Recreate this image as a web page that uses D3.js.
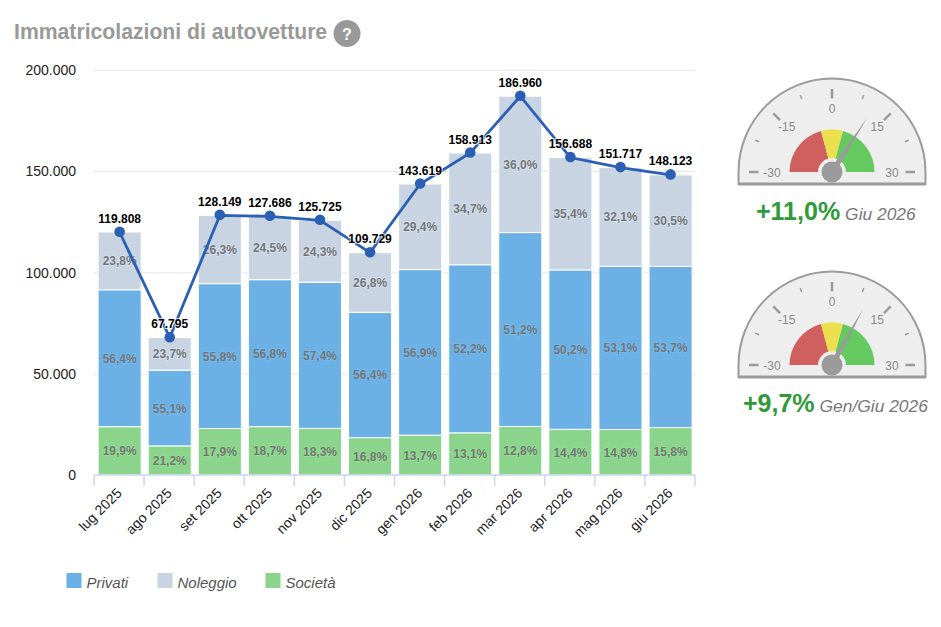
<!DOCTYPE html>
<html lang="it">
<head>
<meta charset="utf-8">
<title>Immatricolazioni di autovetture</title>
<script src="https://cdn.jsdelivr.net/npm/d3@7/dist/d3.min.js"></script>
<style>
  html, body { margin: 0; padding: 0; background: #fff; }
  svg { display: block; font-family: "Liberation Sans", Arial, sans-serif; }
</style>
</head>
<body>
<svg id="chart" width="941" height="627"></svg>
<script>
// Monthly registrations and the share of each sales channel
const months = ["lug 2025","ago 2025","set 2025","ott 2025","nov 2025","dic 2025","gen 2026","feb 2026","mar 2026","apr 2026","mag 2026","giu 2026"];
const totals = [119808,67795,128149,127686,125725,109729,143619,158913,186960,156688,151717,148123];
const societa = [19.9,21.2,17.9,18.7,18.3,16.8,13.7,13.1,12.8,14.4,14.8,15.8];
const privati = [56.4,55.1,55.8,56.8,57.4,56.4,56.9,52.2,51.2,50.2,53.1,53.7];
const noleggio = [23.8,23.7,26.3,24.5,24.3,26.8,29.4,34.7,36.0,35.4,32.1,30.5];
const yTicks = [0,50000,100000,150000,200000];
const seriesNames = ["Privati","Noleggio","Società"];
const seriesColors = ["#6cb1e6","#c9d4e3","#8ad48b"];
const gaugeValues = [11.0,9.7];
const gaugePeriods = ["Giu 2026","Gen/Giu 2026"];
const gaugeTicks = [-30,-15,0,15,30];
const gaugeMinorTicks = [-22.5,-7.5,7.5,22.5];
const gaugeZones = [[-30,-5,"#d0605f"],[-5,5,"#ece04f"],[5,30,"#64c95f"]];

const itNumber = v => d3.format(",")(v).replace(/,/g, ".");
const itDecimal = (v, digits) => v.toFixed(digits).replace(".", ",");

const svg = d3.select("#chart");

// Heading with the help badge
svg.append("text").attr("x", 14).attr("y", 39)
  .attr("font-size", 21.2).attr("font-weight", 700).attr("fill", "#999")
  .text("Immatricolazioni di autovetture");
svg.append("circle").attr("cx", 347).attr("cy", 33.5).attr("r", 13.5).attr("fill", "#999");
svg.append("text").attr("x", 347).attr("y", 39.5).attr("text-anchor", "middle")
  .attr("font-size", 16).attr("font-weight", 700).attr("fill", "#fff").text("?");

// Scales
const plot = { left: 94, right: 695, top: 69.8, bottom: 475 };
const x = d3.scaleBand().domain(months).range([plot.left + 0.6, plot.right + 0.6]).paddingInner(0.14).paddingOuter(0.07);
const y = d3.scaleLinear().domain([0, 200000]).range([plot.bottom, plot.top]);
const center = m => x(m) + x.bandwidth() / 2;

// Value axis and gridlines
const yAxis = svg.append("g").attr("transform", `translate(${plot.left},0)`)
  .call(d3.axisLeft(y).tickValues(yTicks).tickFormat(itNumber).tickSize(-(plot.right - plot.left)).tickPadding(18));
yAxis.select(".domain").remove();
yAxis.selectAll(".tick line").attr("stroke", "#e6e6e6");
yAxis.selectAll(".tick text").attr("font-size", 14).attr("fill", "#222")
  .attr("font-family", '"Liberation Sans", Arial, sans-serif').attr("dy", "0.55em")
  .attr("y", -3);

// Stacked columns, Società at the base
const rows = months.map((m, i) => ({
  month: m,
  total: totals[i],
  Società: totals[i] * societa[i] / 100,
  Privati: totals[i] * privati[i] / 100,
  Noleggio: totals[i] * noleggio[i] / 100,
  shares: { Società: societa[i], Privati: privati[i], Noleggio: noleggio[i] }
}));
const colorOf = d3.scaleOrdinal().domain(seriesNames).range(seriesColors);
const stacked = d3.stack().keys(["Società", "Privati", "Noleggio"])(rows);

const layers = svg.append("g").selectAll("g").data(stacked).join("g");
layers.selectAll("rect").data(s => s.map(d => ({ ...d, key: s.key }))).join("rect")
  .attr("x", d => x(d.data.month))
  .attr("width", x.bandwidth())
  .attr("y", d => y(d[1]))
  .attr("height", d => y(d[0]) - y(d[1]))
  .attr("fill", d => colorOf(d.key))
  .attr("stroke", "#fff").attr("stroke-width", 1);

// Category axis: ticks fall on the band boundaries
const axisY = plot.bottom;
const boundary = d3.scaleLinear().domain([0, months.length]).range([plot.left, plot.right]);
const xAxis = svg.append("g");
xAxis.append("line").attr("x1", plot.left).attr("x2", plot.right)
  .attr("y1", axisY).attr("y2", axisY).attr("stroke", "#ccd6eb").attr("stroke-width", 1.5);
xAxis.selectAll(".bound").data(d3.range(months.length + 1)).join("line").attr("class", "bound")
  .attr("x1", i => boundary(i)).attr("x2", i => boundary(i))
  .attr("y1", axisY).attr("y2", axisY + 11).attr("stroke", "#ccd6eb").attr("stroke-width", 1.5);
xAxis.selectAll(".cat").data(months).join("text").attr("class", "cat")
  .attr("text-anchor", "end").attr("font-size", 14).attr("fill", "#222")
  .attr("transform", m => `translate(${center(m) + 3},${axisY + 19}) rotate(-45)`)
  .text(m => m);

// Percentages inside the segments, with a light halo
const shareLabels = svg.append("g");
stacked.forEach(s => {
  shareLabels.selectAll(null).data(s).join("text")
    .attr("x", d => center(d.data.month))
    .attr("y", d => y((d[0] + d[1]) / 2) + 4.5)
    .attr("text-anchor", "middle").attr("font-size", 12).attr("font-weight", 700)
    .attr("fill", "#757575")
    .attr("stroke", d3.color(colorOf(s.key)).brighter(0.25)).attr("stroke-width", 1.5)
    .attr("stroke-opacity", 0.6).attr("paint-order", "stroke")
    .text(d => itDecimal(d.data.shares[s.key], 1) + "%");
});

// Total registrations as a line over the columns
const line = d3.line().x(d => center(d.month)).y(d => y(d.total));
svg.append("path").datum(rows).attr("d", line).attr("fill", "none")
  .attr("stroke", "#2b5fb4").attr("stroke-width", 2.8);
svg.append("g").selectAll("circle").data(rows).join("circle")
  .attr("cx", d => center(d.month)).attr("cy", d => y(d.total) - 0.5).attr("r", 5.3).attr("fill", "#2b5fb4");
svg.append("g").selectAll("text").data(rows).join("text")
  .attr("x", d => center(d.month)).attr("y", d => y(d.total) - 9.5)
  .attr("text-anchor", "middle").attr("font-size", 12).attr("font-weight", 700).attr("fill", "#000")
  .attr("stroke", "#fff").attr("stroke-width", 2).attr("stroke-opacity", 0.75).attr("paint-order", "stroke")
  .text(d => itNumber(d.total));

// Legend
const legendX = [66.5, 157.5, 265.5];
const legend = svg.append("g").selectAll("g").data(seriesNames).join("g")
  .attr("transform", (d, i) => `translate(${legendX[i]},573)`);
legend.append("rect").attr("width", 15).attr("height", 15).attr("fill", d => colorOf(d));
legend.append("text").attr("x", 20).attr("y", 14.5).attr("font-size", 15).attr("font-style", "italic")
  .attr("fill", "#555").text(d => d);

// Dial gauges
const gaugeAngle = d3.scaleLinear().domain([-30, 30]).range([-Math.PI / 2, Math.PI / 2]);
const polar = (r, a) => [r * Math.sin(a), -r * Math.cos(a)];

function drawGauge(cy, value, period, textX, baseline) {
  const g = svg.append("g").attr("transform", `translate(832,${cy})`);
  const R = 93.5, drop = 12;
  g.append("path")
    .attr("d", `M${-R},${drop} L${-R},0 A${R},${R} 0 0 1 ${R},0 L${R},${drop} Z`)
    .attr("fill", "#eeeeee").attr("stroke", "#9a9a9a").attr("stroke-width", 2);
  g.append("line").attr("x1", -R).attr("x2", R).attr("y1", drop).attr("y2", drop)
    .attr("stroke", "#9a9a9a").attr("stroke-width", 3);

  const zone = d3.arc().innerRadius(14).outerRadius(42.5);
  g.selectAll(".zone").data(gaugeZones).join("path").attr("class", "zone")
    .attr("d", d => zone({ startAngle: gaugeAngle(d[0]), endAngle: gaugeAngle(d[1]) }))
    .attr("fill", d => d[2]);

  g.selectAll(".major").data(gaugeTicks).join("line").attr("class", "major")
    .each(function (t) {
      const [x1, y1] = polar(73.5, gaugeAngle(t));
      const [x2, y2] = polar(83, gaugeAngle(t));
      d3.select(this).attr("x1", x1).attr("y1", y1).attr("x2", x2).attr("y2", y2);
    })
    .attr("stroke", "#9a9a9a").attr("stroke-width", 2.5);
  g.selectAll(".minor").data(gaugeMinorTicks).join("line").attr("class", "minor")
    .each(function (t) {
      const [x1, y1] = polar(79, gaugeAngle(t));
      const [x2, y2] = polar(83, gaugeAngle(t));
      d3.select(this).attr("x1", x1).attr("y1", y1).attr("x2", x2).attr("y2", y2);
    })
    .attr("stroke", "#9a9a9a").attr("stroke-width", 1.5);
  g.selectAll(".num").data(gaugeTicks).join("text").attr("class", "num")
    .attr("x", t => polar(Math.abs(t) === 30 ? 60 : 64, gaugeAngle(t))[0])
    .attr("y", t => polar(Math.abs(t) === 30 ? 60 : 64, gaugeAngle(t))[1] + 4.5)
    .attr("text-anchor", "middle").attr("font-size", 12).attr("fill", "#8a8a8a")
    .text(t => t);

  // Needle, tapering from the hub
  const a = gaugeAngle(value);
  const tip = polar(64, a);
  const s0 = polar(3, a + Math.PI / 2), s1 = polar(3, a - Math.PI / 2);
  g.append("path").attr("d", `M${s0[0]},${s0[1]} L${tip[0]},${tip[1]} L${s1[0]},${s1[1]} Z`).attr("fill", "#9a9a9a");
  g.append("circle").attr("r", 10.5).attr("fill", "#9a9a9a");

  const label = svg.append("text").attr("x", textX).attr("y", baseline);
  label.append("tspan").attr("font-size", 25).attr("font-weight", 700).attr("fill", "#2f9a3a")
    .text("+" + itDecimal(value, 1) + "%");
  label.append("tspan").attr("dx", 5).attr("font-size", 17.4).attr("font-style", "italic").attr("fill", "#777")
    .text(period);
}
drawGauge(172, gaugeValues[0], gaugePeriods[0], 756, 219.5);
drawGauge(365, gaugeValues[1], gaugePeriods[1], 743, 412);
</script>
</body>
</html>
